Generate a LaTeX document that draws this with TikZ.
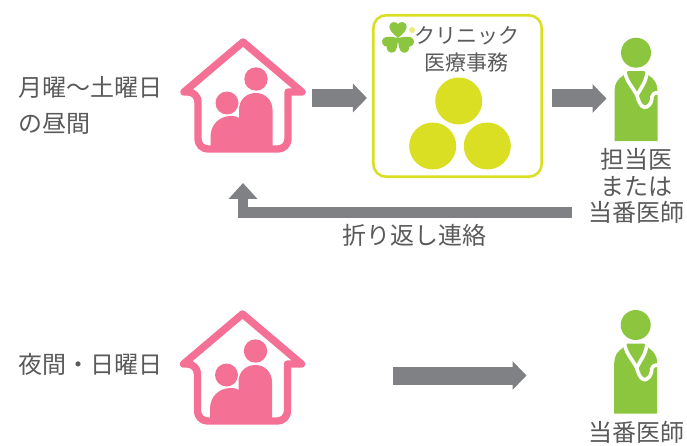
\documentclass[tikz,border=0pt]{standalone}
\usepackage{fontspec}
\setmainfont{Noto Sans CJK JP}
\usetikzlibrary{arrows.meta}
\definecolor{housepink}{HTML}{F47195}
\definecolor{arrowgray}{HTML}{808184}
\definecolor{boxyellow}{HTML}{DADF24}
\definecolor{docgreen}{HTML}{8CC63F}
\definecolor{textgray}{HTML}{5A5A5A}
\tikzset{
  label text/.style={text=textgray,font=\fontsize{24}{30}\selectfont,inner sep=0pt,align=center},
  box text/.style={text=textgray,font=\fontsize{21}{26}\selectfont,inner sep=0pt},
  block arrow/.style={draw=arrowgray,line width=18pt,-{Triangle[length=14pt,width=28pt]}},
  thin arrow/.style={draw=arrowgray,line width=10.7pt,-{Triangle[length=16pt,width=28pt]}},
  yellow dot/.style={circle,fill=boxyellow,minimum size=47pt,inner sep=0pt},
  anchor box/.style={inner sep=0pt,outer sep=0pt}
}
% house with two people, (0,0) is the apex
\newcommand{\familyhouse}[1]{
\begin{scope}[shift={(#1)}]
\draw[housepink,line width=7.4pt,line join=round,rounded corners=0pt]
  (-59,50) -- (0,0) -- (59,50) -- (45,50) [rounded corners=10pt] -- (45,107) -- (-45,107) -- (-45,50) [rounded corners=0pt] -- cycle;
\fill[housepink] (13,37) circle (11.7);
\fill[housepink] (-16,61) circle (11.5);
\fill[housepink] (-32.5,105) -- (-32.5,95) .. controls (-32.5,82) and (-23,74) .. (-12,74) .. controls (-7,74) and (-3,75) .. (-3,78) -- (-3,105) -- cycle;
\fill[housepink] (-4,105) -- (-4,68) .. controls (-4,57) and (4,51) .. (13,51) .. controls (22,51) and (29.5,58) .. (29.5,68) -- (29.5,105) -- cycle;
\end{scope}}
% doctor, (0,0) is the centre of the head
\newcommand{\doctorfigure}[1]{
\begin{scope}[shift={(#1)}]
\fill[docgreen] (0,0) circle (15);
\fill[docgreen] (-21.5,88.5) -- (-21.5,38) .. controls (-21.5,31) and (-18,26) .. (-13,23) -- (-8,18.5) -- (8,18.5) -- (13,23) .. controls (18,26) and (21.5,31) .. (21.5,38) -- (21.5,88.5) -- cycle;
\draw[white,line width=3.6pt] (-11,20) .. controls (-9,30) and (-2,36) .. (1,43) .. controls (4,54) and (8,56) .. (11,54) .. controls (15,52) and (16,47) .. (16,44) .. controls (16,42) and (18,40) .. (22,40);
\draw[white,line width=3.6pt] (11,20) .. controls (10,30) and (4,36) .. (1,43);
\end{scope}}
\begin{document}
\begin{tikzpicture}[x=1pt,y=-1pt]
\useasboundingbox (0,0) rectangle (687,446);
% upper row
\node[label text,anchor=west] (timeA) at (18,87) {月曜〜土曜日};
\node[label text,anchor=west] (timeAb) at (18,124) {の昼間};
\node[anchor box,minimum width=126pt,minimum height=110pt] (houseA) at (243,98) {};
\familyhouse{243,42}
\node[draw=boxyellow,line width=2.6pt,rounded corners=13pt,minimum width=168.5pt,minimum height=161.5pt,inner sep=0pt] (clinicBox) at (457.5,96) {};
\node[yellow dot] (staffTop) at (458.7,101) {};
\node[yellow dot] (staffLeft) at (432.7,146) {};
\node[yellow dot] (staffRight) at (487.3,146) {};
% clover mark
\foreach \leafangle in {0,128,-128}
  \fill[docgreen,shift={(398,38)},rotate=\leafangle,scale=1.08] (0,0) .. controls (-5,-4) and (-8.5,-8) .. (-8,-11) .. controls (-7.5,-15) and (-2,-16) .. (0,-13) .. controls (2,-16) and (7.5,-15) .. (8,-11) .. controls (8.5,-8) and (5,-4) .. (0,0) -- cycle;
\fill[boxyellow!60] (412,30) circle (3);
\node[box text] (clinicName) at (466.5,35.5) {クリニック};
\node[box text] (clinicDept) at (466.5,62.5) {医療事務};
\node[anchor box,minimum width=43pt,minimum height=104pt] (doctorA) at (636,89) {};
\doctorfigure{636,52.7}
\node[label text,font=\fontsize{24}{26.5}\selectfont] (doctorAlabel) at (636.5,186) {担当医\\または\\当番医師};
\coordinate (returnStart) at (572,212.3);
\draw[block arrow,shorten <=6pt,shorten >=5pt] (houseA.east) -- (clinicBox.west |- houseA.east);
\draw[block arrow,shorten <=9pt,shorten >=8pt] (clinicBox.east |- 0,98.5) -- (doctorA.west |- 0,98.5);
\draw[thin arrow,shorten >=30pt] (returnStart) -| (houseA.south);
\node[label text] (returnText) at (414,235) {折り返し連絡};
% lower row
\node[label text,anchor=west] (timeB) at (18,364) {夜間・日曜日};
\node[anchor box,minimum width=126pt,minimum height=116pt] (houseB) at (242.5,367) {};
\familyhouse{242.5,314}
\node[anchor box,minimum width=43pt,minimum height=104pt] (doctorB) at (636,361) {};
\doctorfigure{635.7,325}
\node[label text] (doctorBlabel) at (636.5,432) {当番医師};
\draw[block arrow,shorten <=87pt,shorten >=88pt] (houseB.east |- 0,375.5) -- (doctorB.west |- 0,375.5);
\end{tikzpicture}
\end{document}
